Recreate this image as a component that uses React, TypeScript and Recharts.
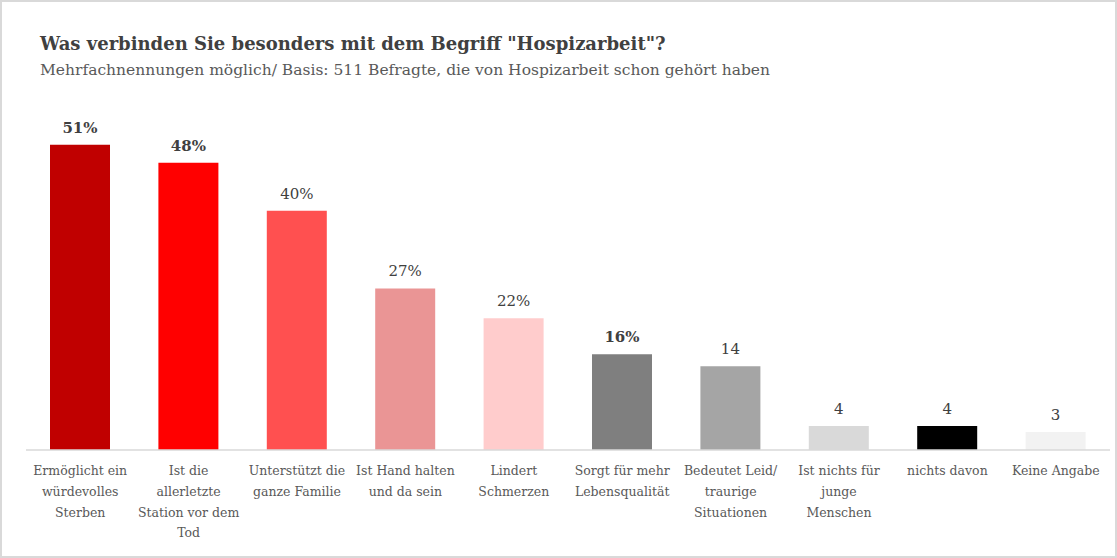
import { BarChart, Bar, XAxis, YAxis, Cell, LabelList } from 'recharts';

const categories = [
  'Ermöglicht ein\nwürdevolles\nSterben',
  'Ist die\nallerletzte\nStation vor dem\nTod',
  'Unterstützt die\nganze Familie',
  'Ist Hand halten\nund da sein',
  'Lindert\nSchmerzen',
  'Sorgt für mehr\nLebensqualität',
  'Bedeutet Leid/\ntraurige\nSituationen',
  'Ist nichts für\njunge\nMenschen',
  'nichts davon',
  'Keine Angabe',
];
const values = [51, 48, 40, 27, 22, 16, 14, 4, 4, 3];
const withPercent = [true, true, true, true, true, true, false, false, false, false];
const boldLabel = [true, true, false, false, false, true, false, false, false, false];
const colors = ['#C00000', '#FF0000', '#FF5050', '#EA9595', '#FFCCCC', '#7F7F7F', '#A5A5A5', '#D9D9D9', '#000000', '#F2F2F2'];

const data = categories.map((name, i) => ({
  name,
  value: values[i],
  label: withPercent[i] ? `${values[i]}%` : `${values[i]}`,
  bold: boldLabel[i],
}));

const FONT = '"DejaVu Serif", "Liberation Serif", serif';

const Tick = ({ x, y, payload }: any) => {
  const lines = String(payload.value).split('\n');
  return (
    <text x={x} y={y} textAnchor="middle" fill="#595959" fontSize={12.5} fontFamily={FONT}>
      {lines.map((l, i) => (
        <tspan key={i} x={x} y={y + 25 + i * 20.8}>
          {l}
        </tspan>
      ))}
    </text>
  );
};

const ValueLabel = ({ x, y, width, index }: any) => {
  const d = data[index];
  return (
    <text
      x={x + width / 2}
      y={y - 12}
      textAnchor="middle"
      fill="#404040"
      fontSize={15}
      fontWeight={d.bold ? 'bold' : 'normal'}
      fontFamily={FONT}
    >
      {d.label}
    </text>
  );
};

export default function App() {
  return (
    <div
      style={{
        position: 'absolute',
        left: 0,
        top: 0,
        width: 1117,
        height: 558,
        boxSizing: 'border-box',
        border: '2px solid #d9d9d9',
        background: '#fff',
        fontFamily: FONT,
      }}
    >
      <div style={{ position: 'absolute', left: 38, top: 33, fontSize: 18, lineHeight: '18px', fontWeight: 'bold', color: '#404040' }}>
        Was verbinden Sie besonders mit dem Begriff "Hospizarbeit"?
      </div>
      <div style={{ position: 'absolute', left: 38, top: 61, fontSize: 15.5, lineHeight: '15px', color: '#595959' }}>
        Mehrfachnennungen möglich/ Basis: 511 Befragte, die von Hospizarbeit schon gehört haben
      </div>
      <div style={{ position: 'absolute', left: -2, top: -2 }}>
        <BarChart width={1117} height={558} data={data} margin={{ top: 91, right: 7, bottom: 8, left: 26 }}>
          <YAxis hide domain={[0, 60]} />
          <XAxis
            dataKey="name"
            interval={0}
            tickLine={false}
            tickSize={0}
            tickMargin={0}
            height={100}
            axisLine={{ stroke: '#d9d9d9', strokeWidth: 1.5 }}
            tick={<Tick />}
          />
          <Bar dataKey="value" barSize={60} isAnimationActive={false}>
            {data.map((d, i) => (
              <Cell key={i} fill={colors[i]} />
            ))}
            <LabelList dataKey="value" content={<ValueLabel />} />
          </Bar>
        </BarChart>
      </div>
    </div>
  );
}
